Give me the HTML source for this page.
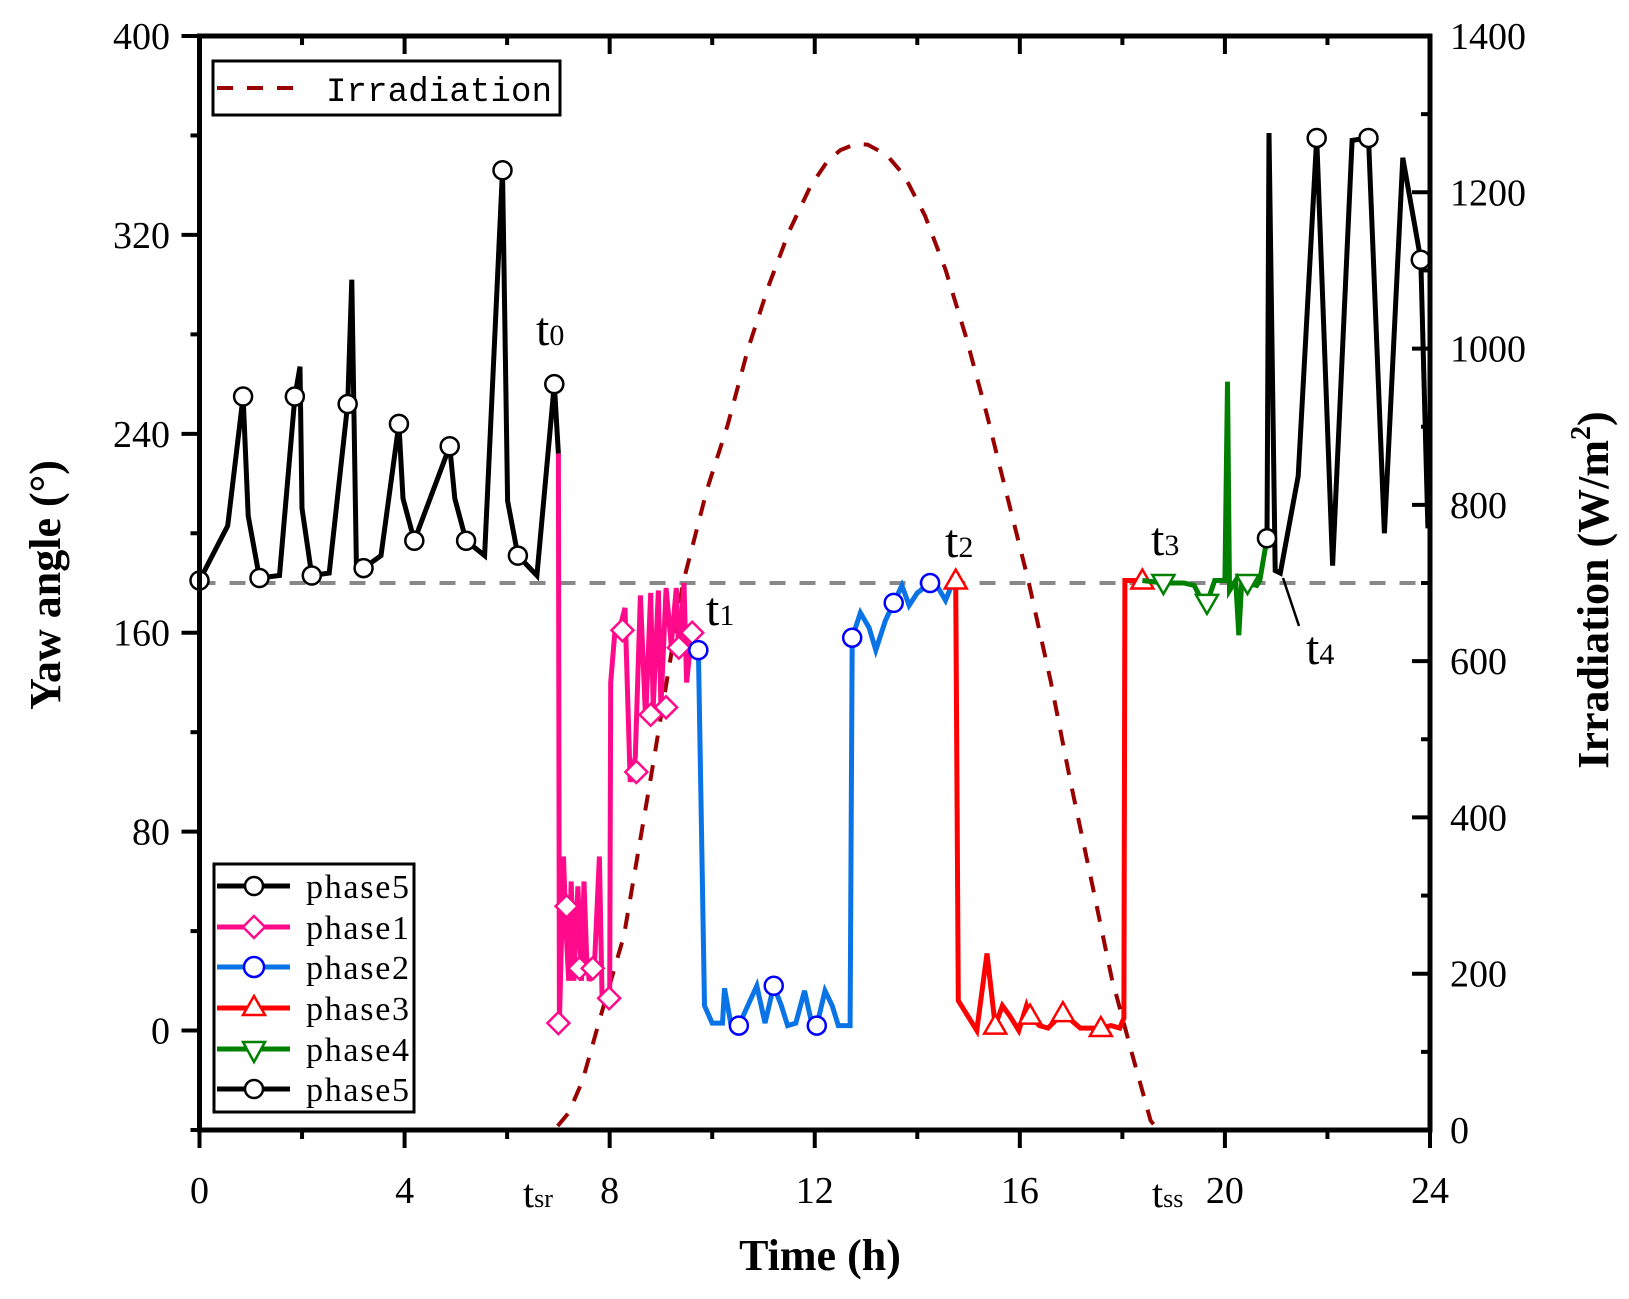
<!DOCTYPE html>
<html><head><meta charset="utf-8">
<style>
html,body{margin:0;padding:0;background:#fff;}
svg{display:block;font-family:"Liberation Serif",serif;}
</style></head>
<body>
<svg id="chart" width="1629" height="1299" viewBox="0 0 1629 1299" xmlns="http://www.w3.org/2000/svg">
<g id="plot"></g>
</svg>
<script>
// ---- data ----
const phase5aT = [0,0.55,0.85,0.95,1.17,1.56,1.86,1.96,2.0,2.19,2.53,2.89,2.97,3.06,3.2,3.54,3.89,3.97,4.19,4.88,4.98,5.2,5.56,5.91,6.01,6.21,6.58,6.92,7.0];
const phase5aV = [181,203,255,207,182,183,255,267,210,183,184,252,302,187,186,191,244,214,197,235,214,197,191,346,213,191,183,260,232];
const phase5aMT = [0,0.85,1.17,1.86,2.19,2.89,3.2,3.89,4.19,4.88,5.2,5.91,6.21,6.92];
const phase5aMV = [181,255,182,255,183,252,186,244,197,235,197,346,191,260];

const phase1T = [7.0,7.02,7.1,7.15,7.2,7.25,7.3,7.38,7.45,7.5,7.55,7.6,7.7,7.8,7.85,7.95,8.0,8.02,8.1,8.2,8.3,8.4,8.5,8.6,8.7,8.8,8.85,8.95,9.0,9.1,9.2,9.3,9.35,9.45,9.5,9.6,9.7];
const phase1V = [232,3,70,40,20,60,20,58,20,60,30,20,25,70,15,15,15,140,160,162,170,100,110,175,125,176,130,177,130,178,155,178,150,180,140,160,155];
const phase1MT = [7.0,7.16,7.41,7.67,7.99,8.25,8.52,8.8,9.1,9.35,9.61];
const phase1MV = [3,50,25,25,13,161,104,127,130,154,160];

const phase2T = [9.73,9.85,10.0,10.2,10.24,10.36,10.52,10.67,10.87,11.03,11.2,11.35,11.47,11.63,11.8,11.92,12.04,12.2,12.34,12.46,12.69,12.73,12.89,13.06,13.19,13.38,13.54,13.7,13.84,14.0,14.25,14.41,14.55,14.67];
const phase2V = [153,10,3,3,17,3,2,9,18,3,18,10,2,3,16,5,2,16,10,2,2,158,168,162,153,165,172,179,171,176,180,178,173,179];
const phase2MT = [9.73,10.52,11.2,12.04,12.73,13.54,14.25];
const phase2MV = [153,2,18,2,158,172,180];

const phase3T = [14.75,14.8,14.92,15.16,15.36,15.52,15.66,15.8,15.98,16.13,16.2,16.38,16.55,16.84,17.18,17.58,17.78,17.95,18.03,18.05,18.39];
const phase3V = [181,12,8,0,31,2,10,6,0,10,6,2,1,7,1,1,2,1,5,181,181];
const phase3MT = [14.75,15.52,16.2,16.84,17.58,18.39];
const phase3MV = [181,2,6,7,1,181];

const phase4T = [18.39,18.8,19.2,19.4,19.5,19.65,19.8,20.0,20.05,20.09,20.21,20.27,20.33,20.44,20.62,20.68,20.82];
const phase4V = [181,180,180,179,175,172,181,181,261,177,181,159,181,180,179,181,198];
const phase4MT = [18.8,19.65,20.44];
const phase4MV = [180,172,180];

const phase5bT = [20.82,20.86,20.98,21.08,21.43,21.79,22.1,22.48,22.8,23.11,23.47,23.82,23.96];
const phase5bV = [198,361,185,184,223,359,187,358,359,200,351,310,202];
const phase5bMT = [20.82,21.79,22.8,23.82];
const phase5bMV = [198,359,359,310];

const irrT = [0,6.92,7.2,7.47,7.8,8.28,8.8,9.43,9.9,10.3,10.7,11.11,11.5,11.92,12.25,12.5,12.8,13.03,13.4,13.74,14.15,14.55,14.95,15.36,15.75,16.17,16.6,16.98,17.4,17.79,18.2,18.55,18.7,24];
const irrV = [0,0,22,63,140,249,450,700,820,902,1000,1082,1150,1208,1240,1254,1262,1261,1248,1222,1170,1101,1015,915,812,702,575,448,318,195,95,12,0,0];

const xTicks = [0,4,8,12,16,20,24];
const yTicks = [0,80,160,240,320,400];
const rTicks = [0,200,400,600,800,1000,1200,1400];

// ---- axes ----
const L=199.5,R=1430,T=36,B=1130;
const X=t=>L+t*(R-L)/24;
const Y=v=>B-(v+40)*(B-T)/440;
const RY=v=>B-v*(B-T)/1400;
const NS="http://www.w3.org/2000/svg";
const g=document.getElementById('plot');
function el(tag,attrs,parent){const e=document.createElementNS(NS,tag);for(const k in attrs)e.setAttribute(k,attrs[k]);(parent||g).appendChild(e);return e;}
function pts(ts,vs,f){return ts.map((t,i)=>X(t).toFixed(1)+','+f(vs[i]).toFixed(1)).join(' ');}

let e=el('line',{x1:L,x2:R,y1:Y(180),y2:Y(180),stroke:'#888','stroke-width':4,'stroke-dasharray':'16,14'});



e=el('polyline',{points:pts(irrT,irrV,RY),fill:'none',stroke:'#990000','stroke-width':4,'stroke-dasharray':'16,14','stroke-linejoin':'round'});



function marker(kind,x,y,color,parent){
  let m;
  if(kind==='circle')m=el('circle',{cx:x,cy:y,r:9,fill:'#fff',stroke:color,'stroke-width':2.5},parent);
  else if(kind==='diamond')m=el('polygon',{points:`${x},${y-11} ${x+11},${y} ${x},${y+11} ${x-11},${y}`,fill:'#fff',stroke:color,'stroke-width':2.5},parent);
  else if(kind==='up')m=el('polygon',{points:`${x},${y-11} ${x+11},${y+8} ${x-11},${y+8}`,fill:'#fff',stroke:color,'stroke-width':2.5},parent);
  else m=el('polygon',{points:`${x},${y+11} ${x+11},${y-8} ${x-11},${y-8}`,fill:'#fff',stroke:color,'stroke-width':2.5},parent);
  return m;}
const series=[
 ['phase5-early',phase5aT,phase5aV,phase5aMT,phase5aMV,'#000','circle'],
 ['phase1',phase1T,phase1V,phase1MT,phase1MV,'#ff0a8a','diamond'],
 ['phase2',phase2T,phase2V,phase2MT,phase2MV,'#0a74e6','circle'],
 ['phase3',phase3T,phase3V,phase3MT,phase3MV,'#ff0000','up'],
 ['phase4',phase4T,phase4V,phase4MT,phase4MV,'#008000','down'],
 ['phase5-late',phase5bT,phase5bV,phase5bMT,phase5bMV,'#000','circle']];
series.forEach(s=>{
  const grp=el('g',{});
  
  
  const ln=el('polyline',{points:pts(s[1],s[2],Y),fill:'none',stroke:s[5],'stroke-width':5,'stroke-linejoin':'miter'},grp);
  
  
  s[3].forEach((t,i)=>{const mc=s[6]==='circle'&&s[5]==='#0a74e6'?'#0000ff':s[5];
    const m=marker(s[6],X(t),Y(s[4][i]),mc,grp);
    
    });
});

e=el('rect',{x:L,y:T,width:R-L,height:B-T,fill:'none',stroke:'#000','stroke-width':5});


for(let t=0;t<=24;t+=2){const maj=t%4===0;
  el('line',{x1:X(t),x2:X(t),y1:B,y2:B+(maj?18:9),stroke:'#000','stroke-width':4});
  el('line',{x1:X(t),x2:X(t),y1:T,y2:T+(maj?18:9),stroke:'#000','stroke-width':4});}
for(let v=-40;v<=400;v+=40){const maj=v%80===0;
  el('line',{x1:L,x2:L-(maj?18:9),y1:Y(v),y2:Y(v),stroke:'#000','stroke-width':4});}
for(let v=0;v<=1400;v+=100){const maj=v%200===0;
  el('line',{x1:R,x2:R-(maj?18:9),y1:RY(v),y2:RY(v),stroke:'#000','stroke-width':4});}
xTicks.forEach(t=>{const tx=el('text',{x:X(t),y:1203,'font-size':38,'text-anchor':'middle'});tx.textContent=t;
  
  });
yTicks.forEach(v=>{const tx=el('text',{x:170,y:Y(v)+13,'font-size':38,'text-anchor':'end'});tx.textContent=v;
  
  });
rTicks.forEach(v=>{const tx=el('text',{x:1450,y:RY(v)+13,'font-size':38,'text-anchor':'start'});tx.textContent=v;
  
  });
</script>
<svg style="position:absolute;left:0;top:0" width="1629" height="1299">
<g font-family="Liberation Serif, serif">
<text x="820" y="1270" font-size="44" font-weight="bold" text-anchor="middle">Time (h)</text>
<text transform="translate(60,585) rotate(-90)" font-size="44" font-weight="bold" text-anchor="middle">Yaw angle (°)</text>
<text transform="translate(1608,590) rotate(-90)" font-size="44" font-weight="bold" text-anchor="middle">Irradiation (W/m<tspan font-size="28" dy="-18">2</tspan><tspan dy="18">)</tspan></text>
<text x="536" y="345" font-size="48">t<tspan font-size="30">0</tspan></text>
<text x="706" y="625" font-size="48">t<tspan font-size="30">1</tspan></text>
<text x="945" y="557" font-size="48">t<tspan font-size="30">2</tspan></text>
<text x="1151" y="555" font-size="48">t<tspan font-size="30">3</tspan></text>
<text x="1306" y="664" font-size="48">t<tspan font-size="30">4</tspan></text>
<line x1="1299" y1="626" x2="1283" y2="578" stroke="#000" stroke-width="2.5"/>
<text x="523" y="1207" font-size="40">t<tspan font-size="26">sr</tspan></text>
<text x="1152" y="1207" font-size="40">t<tspan font-size="26">ss</tspan></text>
<g>
<rect x="213" y="61" width="347" height="54" fill="#fff" stroke="#000" stroke-width="3"/>
<line x1="217" y1="88" x2="295" y2="88" stroke="#990000" stroke-width="4" stroke-dasharray="16,14"/>
<text x="326" y="101" font-family="Liberation Mono, monospace" font-size="34" textLength="226">Irradiation</text>
</g>
<g>
<rect x="214" y="864" width="200" height="248" fill="#fff" stroke="#000" stroke-width="3"/>
<g stroke-width="5">
<line x1="217" y1="886" x2="290" y2="886" stroke="#000"/><circle cx="254" cy="886" r="9" fill="#fff" stroke="#000" stroke-width="2.5"/>
<line x1="217" y1="927" x2="290" y2="927" stroke="#ff0a8a"/><polygon points="254,916 265,927 254,938 243,927" fill="#fff" stroke="#ff0a8a" stroke-width="2.5"/>
<line x1="217" y1="967" x2="290" y2="967" stroke="#0a74e6"/><circle cx="254" cy="967" r="10" fill="#fff" stroke="#0000ff" stroke-width="2.5"/>
<line x1="217" y1="1008" x2="290" y2="1008" stroke="#ff0000"/><polygon points="254,996 265,1015 243,1015" fill="#fff" stroke="#ff0000" stroke-width="2.5"/>
<line x1="217" y1="1049" x2="290" y2="1049" stroke="#008000"/><polygon points="254,1062 265,1042 243,1042" fill="#fff" stroke="#008000" stroke-width="2.5"/>
<line x1="217" y1="1089" x2="290" y2="1089" stroke="#000"/><circle cx="254" cy="1089" r="9" fill="#fff" stroke="#000" stroke-width="2.5"/>
</g>
<g font-size="34">
<text x="306" y="898" textLength="103">phase5</text><text x="306" y="939" textLength="103">phase1</text><text x="306" y="979" textLength="103">phase2</text>
<text x="306" y="1020" textLength="103">phase3</text><text x="306" y="1061" textLength="103">phase4</text><text x="306" y="1101" textLength="103">phase5</text>
</g>
</g>
</g>
</svg>
</body></html>
